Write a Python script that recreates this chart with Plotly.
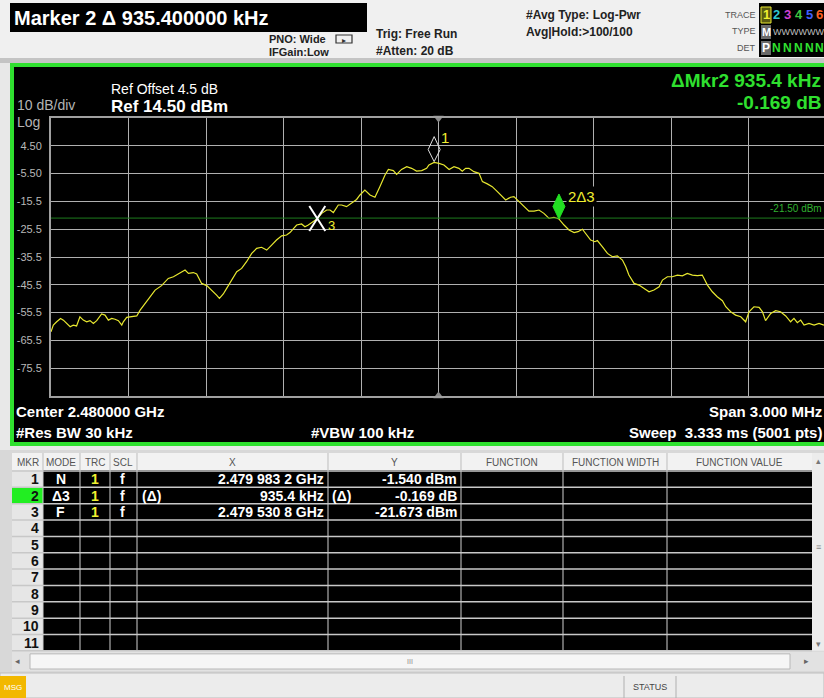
import plotly.graph_objects as go

W, H = 824, 698

# ---------------- data ----------------
center_ghz = 2.480000
span_khz = 3000.0
ref_dbm = 14.50
db_per_div = 10
n_div = 10
display_line_dbm = -21.50

trace_khz = [-1500, -1491, -1478, -1463, -1452, -1439, -1426, -1414, -1401, -1388,
             -1375, -1362, -1349, -1336, -1323, -1304, -1291, -1278, -1265, -1252,
             -1239, -1226, -1220, -1207, -1188, -1168, -1155, -1136, -1117, -1097,
             -1072, -1046, -1026, -1014, -1001, -981, -968, -949, -936, -917,
             -897, -878, -859, -848, -833, -820, -801, -781, -762, -743,
             -723, -704, -685, -665, -646, -627, -607, -588, -575, -549,
             -530, -517, -504, -469, -452, -433, -420, -407, -388, -375,
             -356, -336, -317, -304, -285, -265, -246, -227, -207, -194,
             -175, -162, -143, -123, -104, -85, -65, -46,
             -37, -17, 2, 21, 41, 60, 79, 92, 105, 118,
             137, 157, 170, 189, 208, 228, 247, 260, 279, 292,
             312, 331, 350, 370, 389, 408, 428, 447, 466, 486,
             505, 525, 540, 557, 576, 589, 605, 615, 634, 654,
             673, 692, 712, 725, 737, 757, 776, 796, 815, 834,
             854, 867, 886, 905, 925, 944, 963, 983, 1002, 1021,
             1041, 1060, 1079, 1099, 1112, 1131, 1150, 1170, 1189, 1202,
             1221, 1241, 1254, 1266, 1286, 1305, 1324, 1344, 1363, 1376,
             1389, 1402, 1415, 1434, 1454, 1473, 1492]
trace_dbm = [-62.4, -60.0, -58.8, -57.6, -58.2, -59.4, -60.6, -60.0, -60.3, -57.0,
             -58.2, -58.8, -58.4, -59.4, -58.4, -56.0, -56.4, -58.2, -57.6, -57.9,
             -58.4, -60.0, -58.8, -57.2, -57.0, -56.7, -54.6, -52.2, -49.8, -47.4,
             -45.8, -43.2, -42.6, -42.0, -41.4, -40.2, -41.4, -41.1, -41.6, -45.0,
             -45.8, -47.4, -49.2, -50.4, -48.8, -46.8, -43.8, -40.8, -39.6, -37.2,
             -34.2, -32.4, -32.0, -33.0, -31.2, -29.4, -27.9, -27.6, -26.7, -24.0,
             -23.6, -24.6, -24.0, -21.7, -19.8, -18.6, -18.6, -19.5, -16.8, -16.8,
             -17.4, -16.2, -14.8, -13.2, -11.4, -13.2, -14.0, -10.2, -6.0, -4.0,
             -4.4, -5.8, -4.0, -3.0, -3.6, -4.6, -4.4, -3.6,
             -2.4, -1.5, -1.8, -2.4, -4.0, -3.0, -3.6, -4.6, -3.6, -3.6,
             -4.8, -5.4, -8.4, -9.2, -10.2, -12.0, -13.8, -15.0, -14.0, -13.8,
             -15.6, -17.4, -19.0, -19.0, -18.6, -19.8, -21.6, -21.2, -21.8, -24.0,
             -25.8, -26.7, -26.4, -25.5, -27.6, -29.4, -30.0, -29.6, -31.8, -34.2,
             -35.4, -35.1, -36.6, -39.0, -42.0, -45.0, -45.6, -46.8, -48.0, -47.4,
             -46.2, -43.8, -42.6, -42.6, -42.0, -42.3, -41.4, -42.0, -42.2, -42.0,
             -45.6, -48.0, -49.8, -51.2, -53.4, -55.2, -56.4, -57.0, -58.8, -55.2,
             -53.4, -53.6, -55.2, -58.4, -55.8, -54.8, -55.2, -56.7, -58.8, -57.6,
             -59.1, -58.2, -60.0, -59.4, -60.0, -59.4, -60.0]

m1_ghz, m1_dbm = 2.4799832, -1.540
m3_ghz, m3_dbm = 2.4795308, -21.673
m2_delta_khz, m2_delta_db = 935.4, -0.169

ytick_vals = [4.5, -5.5, -15.5, -25.5, -35.5, -45.5, -55.5, -65.5, -75.5]
ytick_text = ["4.50", "-5.50", "-15.5", "-25.5", "-35.5", "-45.5", "-55.5", "-65.5", "-75.5"]
xgrid_khz = [-1200, -900, -600, -300, 0, 300, 600, 900, 1200]

table_cols = ["MKR", "MODE", "TRC", "SCL", "X", "Y", "FUNCTION", "FUNCTION WIDTH", "FUNCTION VALUE"]
table_modes = ["N", "Δ3", "F"]
table_trc = ["1", "1", "1"]
table_scl = ["f", "f", "f"]
table_xpre = ["", "(Δ)", ""]
table_x = ["2.479 983 2 GHz", "935.4 kHz", "2.479 530 8 GHz"]
table_ypre = ["", "(Δ)", ""]
table_y = ["-1.540 dBm", "-0.169 dB", "-21.673 dBm"]
n_table_rows = 11

# derived marker positions (kHz offset from center)
m1_khz = (m1_ghz - center_ghz) * 1e6
m3_khz = (m3_ghz - center_ghz) * 1e6
m2_khz = m3_khz + m2_delta_khz
m2_dbm = m3_dbm + m2_delta_db

# ---------------- helpers ----------------
FONT = "Liberation Sans"
shapes = []
annots = []


def PX(x):
    return x / W


def PY(y):
    return 1 - y / H


def rect(x0, y0, x1, y1, fill=None, line=None, lw=0, layer="above"):
    shapes.append(dict(type="rect", xref="paper", yref="paper",
                       x0=PX(x0), x1=PX(x1), y0=PY(y0), y1=PY(y1),
                       fillcolor=fill if fill else "rgba(0,0,0,0)",
                       line=dict(color=line if line else "rgba(0,0,0,0)", width=lw),
                       layer=layer))


def hline(x0, x1, y, color, lw=1, layer="above"):
    shapes.append(dict(type="line", xref="paper", yref="paper",
                       x0=PX(x0), x1=PX(x1), y0=PY(y), y1=PY(y),
                       line=dict(color=color, width=lw), layer=layer))


def vline(x, y0, y1, color, lw=1, layer="above"):
    shapes.append(dict(type="line", xref="paper", yref="paper",
                       x0=PX(x), x1=PX(x), y0=PY(y0), y1=PY(y1),
                       line=dict(color=color, width=lw), layer=layer))


def txt(x, y, s, size, color, bold=False, anchor="left", family=FONT, bg=None):
    a = dict(xref="paper", yref="paper", x=PX(x), y=PY(y), text=("<b>%s</b>" % s) if bold else s,
             showarrow=False, xanchor=anchor, yanchor="middle",
             font=dict(size=size, color=color, family=family), borderpad=0)
    if bg:
        a["bgcolor"] = bg
    annots.append(a)


# ---------------- figure ----------------
fig = go.Figure()

fig.add_trace(go.Scatter(x=trace_khz, y=trace_dbm, mode="lines",
                         line=dict(color="#e8e830", width=1.2), hoverinfo="skip"))

bottom_dbm = ref_dbm - db_per_div * n_div
# center triangles
fig.add_trace(go.Scatter(x=[0, 0], y=[ref_dbm, bottom_dbm], mode="markers",
                         marker=dict(symbol=["triangle-down", "triangle-up"], size=9, color="#8a8a8a"),
                         cliponaxis=False, hoverinfo="skip"))

# display line
fig.add_hline(y=display_line_dbm, line=dict(color="#1e7d1e", width=1))

# ---- background panels ----
rect(0, 0, 824, 58, fill="#f4f4f4", layer="below")
rect(0, 58, 824, 63, fill="#c4c4c4", layer="below")
# header black bar
rect(10, 3, 367, 32, fill="#000000", layer="below")
txt(13, 17.5, "Marker 2 Δ 935.400000 kHz", 20, "#ffffff", bold=True)

# setting texts
txt(268, 39, "PNO: Wide", 11, "#222222", bold=True)
txt(268, 52, "IFGain:Low", 11, "#222222", bold=True)
# PNO icon
shapes.append(dict(type="path", xref="paper", yref="paper",
                   path="M %f %f L %f %f L %f %f L %f %f Z" % (PX(336), PY(35), PX(352), PY(35), PX(352), PY(43), PX(336), PY(43)),
                   line=dict(color="#333333", width=1.2), fillcolor="rgba(0,0,0,0)"))
txt(344, 41, "▸", 8, "#333333", anchor="center")
txt(375, 34, "Trig: Free Run", 12, "#222222", bold=True)
txt(375, 51, "#Atten: 20 dB", 12, "#222222", bold=True)
txt(525, 15, "#Avg Type: Log-Pwr", 12, "#222222", bold=True)
txt(525, 32, "Avg|Hold:&gt;100/100", 12, "#222222", bold=True)

# trace box
txt(757, 15, "TRACE", 9, "#555555", anchor="right")
txt(757, 31, "TYPE", 9, "#555555", anchor="right")
txt(757, 48, "DET", 9, "#555555", anchor="right")
rect(759, 3, 830, 57, fill="#000000", layer="below")
rect(761, 7, 771, 23, fill="#5a5a10", line="#e8e830", lw=1)
rect(761, 25, 771, 39, fill="#6a6a6a")
rect(761, 41, 771, 55, fill="#6a6a6a")
trace_nums = ["1", "2", "3", "4", "5", "6"]
trace_cols = ["#f0f030", "#30c8d0", "#d040d0", "#40c840", "#4060ff", "#ff6020"]
num_x = [766, 776.5, 787.5, 798.5, 809.5, 819.5]
for n, c, xx in zip(trace_nums, trace_cols, num_x):
    txt(xx, 15, n, 13, c, bold=True, anchor="center")
txt(766, 32, "M", 11, "#ffffff", bold=True, anchor="center")
txt(772, 32, "WWWWWW", 9, "#bfbfbf", anchor="left")
txt(766, 48, "P", 12, "#ffffff", bold=True, anchor="center")
for xx in num_x[1:]:
    txt(xx, 48, "N", 12, "#30e030", bold=True, anchor="center")

# green panel
rect(0, 63, 824, 450, fill="#e8e8e8", layer="below")
rect(12, 65, 830, 444, fill="#000000", line="#2fe02f", lw=4, layer="below")

# panel texts
txt(110, 89, "Ref Offset 4.5 dB", 14, "#ffffff")
txt(110, 106.5, "Ref 14.50 dBm", 17, "#ffffff", bold=True)
txt(16, 105.5, "10 dB/div", 14, "#b4b4b4")
txt(16, 121.5, "Log", 14, "#b4b4b4")
txt(822, 80, "ΔMkr2 935.4 kHz", 19, "#2fe02f", bold=True, anchor="right")
txt(822, 102, "-0.169 dB", 19, "#2fe02f", bold=True, anchor="right")
txt(823, 209, "-21.50 dBm", 10, "#30b030", anchor="right")

txt(15, 411, "Center 2.480000 GHz", 15, "#ffffff", bold=True)
txt(15, 432, "#Res BW 30 kHz", 15, "#ffffff", bold=True)
txt(310, 432, "#VBW 100 kHz", 15, "#ffffff", bold=True)
txt(823, 411, "Span 3.000 MHz", 15, "#ffffff", bold=True, anchor="right")
txt(823, 432, "Sweep &nbsp;3.333 ms (5001 pts)", 15, "#ffffff", bold=True, anchor="right")

# ---- markers ----
# marker 1 : open diamond
shapes.append(dict(type="path", xref="x", yref="y", xsizemode="pixel", ysizemode="pixel",
                   xanchor=m1_khz, yanchor=m1_dbm,
                   path="M 0 1 L 6 13 L 0 26 L -6 13 Z",
                   line=dict(color="#e0e0e0", width=1), fillcolor="rgba(0,0,0,0)"))
annots.append(dict(xref="x", yref="y", x=m1_khz, y=m1_dbm, text="1", showarrow=False,
                   xshift=11, yshift=25, font=dict(size=15, color="#f0f030", family=FONT)))
# marker 2 : filled green diamond
shapes.append(dict(type="path", xref="x", yref="y", xsizemode="pixel", ysizemode="pixel",
                   xanchor=m2_khz, yanchor=m2_dbm,
                   path="M 0 0 L 6 12.5 L 0 25 L -6 12.5 Z",
                   line=dict(color="#22e022", width=1), fillcolor="#22e022"))
annots.append(dict(xref="x", yref="y", x=m2_khz, y=m2_dbm, text="2Δ3", showarrow=False,
                   xanchor="left", xshift=7, yshift=23, bgcolor="#000000", borderpad=1,
                   font=dict(size=15, color="#f0f030", family=FONT)))
# marker 3 : fixed X
shapes.append(dict(type="path", xref="x", yref="y", xsizemode="pixel", ysizemode="pixel",
                   xanchor=m3_khz, yanchor=m3_dbm,
                   path="M -8 -12.5 L 8 12.5 M -8 12.5 L 8 -12.5",
                   line=dict(color="#ffffff", width=2)))
annots.append(dict(xref="x", yref="y", x=m3_khz, y=m3_dbm, text="3", showarrow=False,
                   xshift=14, yshift=-7, font=dict(size=13, color="#f0f030", family=FONT)))

# ---- marker table ----
col_edges = [12, 43, 80, 110, 137, 328, 461, 563, 667, 812]
row_top = 471
row_h = 16.35
table_bottom = row_top + row_h * n_table_rows
rect(0, 450, 824, 676, fill="#d8d8d8")
rect(12, 453, 812, 470, fill="#f2f2f2")
rect(43, 470, 812, table_bottom, fill="#000000")
rect(12, 470, 43, table_bottom, fill="#e6e6e6")
rect(12, row_top + row_h, 43, row_top + 2 * row_h, fill="#22ee22")
for i in range(len(col_edges) - 1):
    cx = (col_edges[i] + col_edges[i + 1]) / 2
    txt(cx, 462, table_cols[i], 10, "#555555", anchor="center")
for e in col_edges[1:-1]:
    vline(e, 453, 470, "#bdbdbd", 1)
    vline(e, 470, table_bottom, "#d0d0d0", 1)
for k in range(n_table_rows + 1):
    hline(12, 812, row_top + k * row_h, "#c8c8c8", 1.5)
for k in range(n_table_rows):
    cy = row_top + (k + 0.5) * row_h
    txt(40, cy, str(k + 1), 14, "#111111", bold=True, anchor="right")
for k in range(len(table_modes)):
    cy = row_top + (k + 0.5) * row_h
    txt(61, cy, table_modes[k], 14, "#ffffff", bold=True, anchor="center")
    txt(95, cy, table_trc[k], 14, "#f0f030", bold=True, anchor="center")
    txt(123, cy, table_scl[k], 14, "#ffffff", bold=True, anchor="center")
    if table_xpre[k]:
        txt(141, cy, table_xpre[k], 14, "#ffffff", bold=True)
    txt(325, cy, table_x[k], 14, "#ffffff", bold=True, anchor="right")
    if table_ypre[k]:
        txt(331, cy, table_ypre[k], 14, "#ffffff", bold=True)
    txt(458, cy, table_y[k], 14, "#ffffff", bold=True, anchor="right")

# vertical scrollbar
rect(812, 453, 824, table_bottom, fill="#ececec")
txt(818, 461, "▴", 9, "#777777", anchor="center")
txt(818, 547, "≡", 9, "#888888", anchor="center")
txt(818, 644, "▾", 9, "#777777", anchor="center")
# horizontal scrollbar
rect(12, table_bottom + 1, 824, 671, fill="#e2e2e2")
rect(30, table_bottom + 3, 790, 669, fill="#f6f6f6", line="#b8b8b8", lw=1)
txt(17, 661, "◂", 9, "#666666", anchor="center")
txt(806, 661, "▸", 9, "#666666", anchor="center")
txt(410, 661, "III", 7, "#888888", anchor="center")

# status bar
rect(0, 673, 824, 698, fill="#ececec", line="#bdbdbd", lw=1)
rect(0, 676, 26, 698, fill="#f2b800")
txt(13, 687, "MSG", 8, "#ffffff", anchor="center")
vline(624, 676, 698, "#b0b0b0", 1)
vline(676, 676, 698, "#b0b0b0", 1)
txt(650, 687, "STATUS", 9, "#444444", anchor="center")

# ---- axes ----
x_left = -span_khz / 2
plot_px_left, plot_px_full = 51, 775
x_right = x_left + span_khz * (W - plot_px_left) / plot_px_full

fig.update_layout(
    width=W, height=H, margin=dict(l=0, r=0, t=0, b=0),
    paper_bgcolor="#f0f0f0", plot_bgcolor="#000000",
    showlegend=False,
    shapes=shapes, annotations=annots,
    xaxis=dict(domain=[PX(51), 1], range=[x_left, x_right], tickvals=xgrid_khz,
               showticklabels=False, showgrid=True, gridcolor="#b0b0b0", gridwidth=1,
               zeroline=False, showline=True, linecolor="#a0a0a0", linewidth=2, mirror=True,
               fixedrange=True),
    yaxis=dict(domain=[PY(396), PY(118)], range=[bottom_dbm, ref_dbm],
               tickvals=ytick_vals, ticktext=ytick_text,
               tickfont=dict(size=11, color="#b8b8b8", family=FONT),
               ticks="", ticklabelstandoff=5,
               showgrid=True, gridcolor="#b0b0b0", gridwidth=1,
               zeroline=False, showline=True, linecolor="#a0a0a0", linewidth=2, mirror=False,
               fixedrange=True),
)

fig.write_html("out.html", config={"displayModeBar": False},
               post_script="document.body.style.margin='0';document.body.style.overflow='hidden';")
